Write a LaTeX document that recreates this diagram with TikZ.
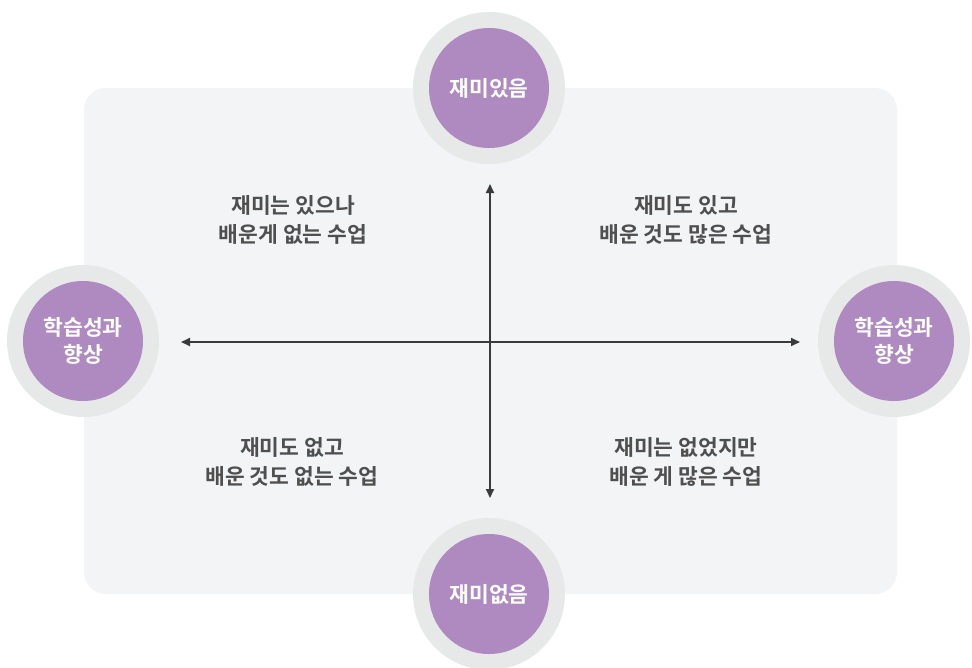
\documentclass[tikz,border=0pt]{standalone}
\usepackage{fontspec}
\newfontfamily\kr{Noto Sans CJK KR}[BoldFont={Noto Sans CJK KR Bold}]
\usetikzlibrary{arrows.meta}
\definecolor{bgpanel}{HTML}{F3F4F6}
\definecolor{ring}{HTML}{E7E8E8}
\definecolor{purp}{HTML}{AE8AC0}
\definecolor{axis}{HTML}{3A3A3A}
\definecolor{txt}{HTML}{4F4F4F}
\tikzset{
  ringc/.style={circle, fill=ring, minimum size=152pt, inner sep=0pt},
  innerc/.style={circle, fill=purp, minimum size=120pt, inner sep=0pt, align=center, text=white, font=\kr\bfseries\fontsize{21.5pt}{27pt}\selectfont},
  quad/.style={align=center, text=txt, font=\kr\bfseries\fontsize{21.5pt}{29pt}\selectfont},
  axisline/.style={draw=axis, line width=1.8pt, {Triangle[length=9pt,width=8pt]}-{Triangle[length=9pt,width=8pt]}}
}
\begin{document}
\begin{tikzpicture}[x=1pt,y=-1pt]
\useasboundingbox (0,0) rectangle (972,667);
\fill[white] (0,0) rectangle (972,667);
\fill[bgpanel, rounded corners=22pt] (84,88) rectangle (897,594);
% rings
\node[ringc] (tr) at (489,88) {};
\node[ringc] (lr) at (83,341) {};
\node[ringc] (rr) at (894,341) {};
\node[ringc] (br) at (489,594) {};
\node[innerc] (top) at (489,88) {재미있음};
\node[innerc] (left) at (83,341) {학습성과\\향상};
\node[innerc] (right) at (894,341) {학습성과\\향상};
\node[innerc] (bot) at (489,594) {재미없음};
% axes
\coordinate (vt) at (490,184);
\coordinate (vb) at (490,498);
\coordinate (hl) at (181,342);
\coordinate (hr) at (800,342);
\draw[axisline] (vt) -- (vb);
\draw[axisline] (hl) -- (hr);
% quadrant labels
\node[quad] (q1) at (293,220) {재미는 있으나\\배운게 없는 수업};
\node[quad] (q2) at (686,220) {재미도 있고\\배운 것도 많은 수업};
\node[quad] (q3) at (292,462) {재미도 없고\\배운 것도 없는 수업};
\node[quad] (q4) at (686,462) {재미는 없었지만\\배운 게 많은 수업};
\end{tikzpicture}
\end{document}
